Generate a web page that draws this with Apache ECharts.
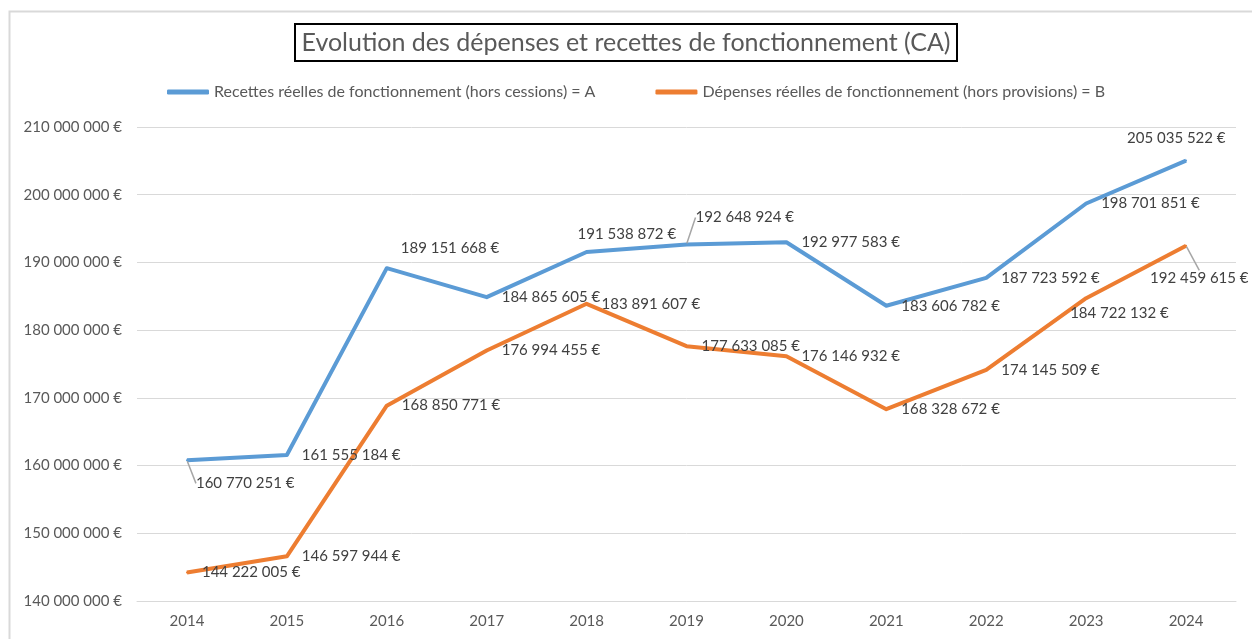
<!DOCTYPE html>
<html>
<head>
<meta charset="utf-8">
<script src="https://cdn.jsdelivr.net/npm/echarts@6/dist/echarts.min.js"></script>
<style>
  html, body { margin: 0; padding: 0; background: #fff; }
  #main { width: 1252px; height: 639px; }
</style>
</head>
<body>
<div id="main"></div>
<script>
// données
var years = ['2014', '2015', '2016', '2017', '2018', '2019', '2020', '2021', '2022', '2023', '2024'];
var recettes = [160770251, 161555184, 189151668, 184865605, 191538872, 192648924, 192977583, 183606782, 187723592, 198701851, 205035522];
var depenses = [144222005, 146597944, 168850771, 176994455, 183891607, 177633085, 176146932, 168328672, 174145509, 184722132, 192459615];
var nameA = 'Recettes réelles de fonctionnement (hors cessions) = A';
var nameB = 'Dépenses réelles de fonctionnement (hors provisions) = B';

var font = 'Lato, "Open Sans", sans-serif';

function euro(v) {
  return String(Math.round(v)).replace(/\B(?=(\d{3})+(?!\d))/g, ' ') + ' €';
}

// décalages des étiquettes (comme dans le classeur)
var shiftA = { 0: [-6, 23], 2: [-1, -20], 4: [-24, -18], 5: [-6, -27], 10: [-74, -22] };
var shiftB = { 9: [-31, 15], 10: [-51, 32] };
var leaderA = { 0: true, 5: true };
var leaderB = { 10: true };

function buildData(values, leaders) {
  return values.map(function (v, i) {
    var item = { value: v };
    if (leaders[i]) {
      item.labelLine = { show: true };
    }
    return item;
  });
}

function labelShift(shifts) {
  return function (params) {
    var s = shifts[params.dataIndex];
    if (s) return { dx: s[0], dy: s[1] };
    return {};
  };
}

var myChart = echarts.init(document.getElementById('main'));

var option = {
  animation: false,
  textStyle: { fontFamily: font },
  graphic: [
    {
      type: 'rect',
      left: 7, top: 9,
      shape: { width: 1300, height: 700 },
      style: { fill: 'none', stroke: '#d9d9d9', lineWidth: 2 },
      silent: true
    }
  ],
  title: {
    text: 'Evolution des dépenses et recettes de fonctionnement (CA)',
    left: 'center',
    top: 24,
    padding: [6, 7, 6, 7],
    borderColor: '#000',
    borderWidth: 2,
    textStyle: { fontFamily: font, fontSize: 25, fontWeight: 'normal', color: '#595959' }
  },
  legend: {
    top: 79,
    left: 162,
    itemWidth: 42,
    itemHeight: 5,
    itemGap: 60,
    icon: 'roundRect',
    data: [nameA, nameB],
    textStyle: { fontFamily: font, fontSize: 16, color: '#595959' }
  },
  grid: { left: 137, right: 16, top: 127, bottom: 38 },
  xAxis: {
    type: 'category',
    data: years,
    boundaryGap: true,
    axisLine: { lineStyle: { color: '#d9d9d9' } },
    axisTick: { show: false },
    axisLabel: { color: '#595959', fontSize: 15, margin: 13, fontFamily: font }
  },
  yAxis: {
    type: 'value',
    min: 140000000,
    max: 210000000,
    interval: 10000000,
    axisLine: { show: false },
    axisTick: { show: false },
    splitLine: { lineStyle: { color: '#d9d9d9', width: 1 } },
    axisLabel: { color: '#595959', fontSize: 15, margin: 15, fontFamily: font, formatter: euro }
  },
  series: [
    {
      name: nameA,
      type: 'line',
      data: buildData(recettes, leaderA),
      symbol: 'circle',
      symbolSize: 2,
      itemStyle: { color: '#5b9bd5' },
      lineStyle: { width: 4, color: '#5b9bd5', join: 'round' },
      label: {
        show: true,
        position: 'right',
        distance: 14,
        color: '#404040',
        fontSize: 15,
        fontFamily: font,
        formatter: function (p) { return euro(p.value); }
      },
      labelLine: { show: false, lineStyle: { color: '#a6a6a6', width: 1.5 } },
      labelLayout: labelShift(shiftA)
    },
    {
      name: nameB,
      type: 'line',
      data: buildData(depenses, leaderB),
      symbol: 'circle',
      symbolSize: 2,
      itemStyle: { color: '#ed7d31' },
      lineStyle: { width: 4, color: '#ed7d31', join: 'round' },
      label: {
        show: true,
        position: 'right',
        distance: 14,
        color: '#404040',
        fontSize: 15,
        fontFamily: font,
        formatter: function (p) { return euro(p.value); }
      },
      labelLine: { show: false, lineStyle: { color: '#a6a6a6', width: 1.5 } },
      labelLayout: labelShift(shiftB)
    }
  ]
};

myChart.setOption(option);
</script>
</body>
</html>
